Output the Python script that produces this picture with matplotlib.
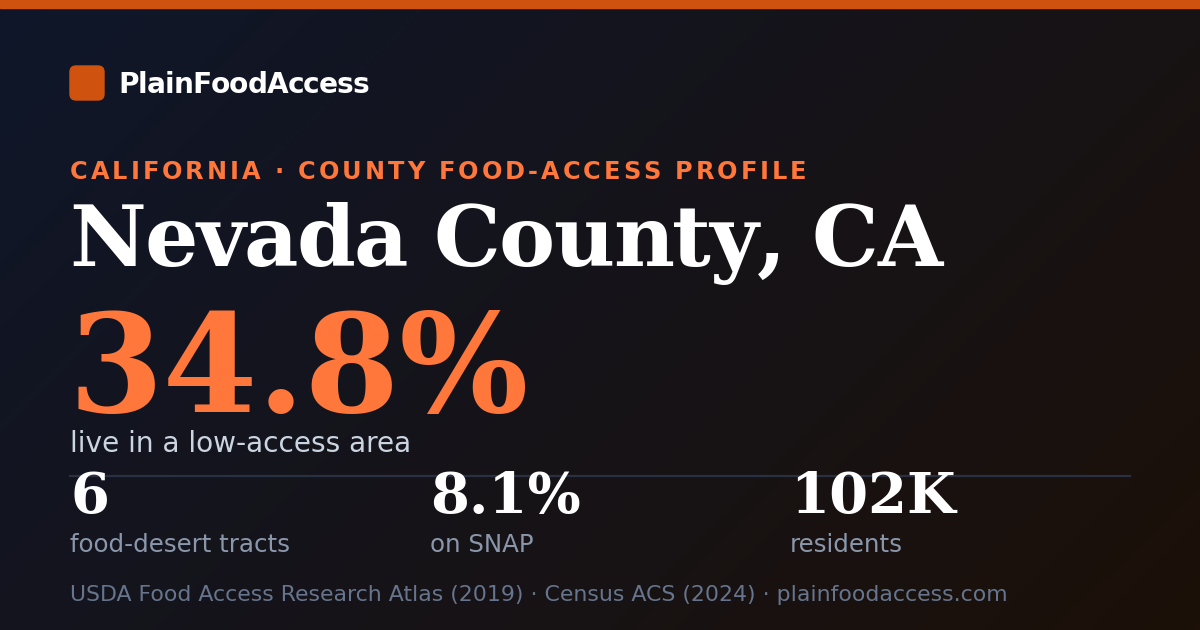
import matplotlib
matplotlib.use("Agg")
import matplotlib.pyplot as plt
import numpy as np
from matplotlib.patches import FancyBboxPatch, Rectangle
from matplotlib.font_manager import FontProperties, findfont, get_font

# card content
brand = "PlainFoodAccess"
kicker = "CALIFORNIA · COUNTY FOOD-ACCESS PROFILE"
county = "Nevada County, CA"
headline_value = "34.8%"
headline_label = "live in a low-access area"
stat_values = ["6", "8.1%", "102K"]
stat_labels = ["food-desert tracts", "on SNAP", "residents"]
footer = "USDA Food Access Research Atlas (2019) · Census ACS (2024) · plainfoodaccess.com"

ORANGE = "#cf520f"
ACCENT = "#ff773a"
W, H = 1200, 630


def px(size_px):
    # css px -> points at dpi 100
    return size_px * 0.72


def spaced_text(ax, x, y, s, size_px, spacing_px, family="DejaVu Sans", weight="bold", **kw):
    # matplotlib has no letter-spacing, so lay the glyphs out one by one
    fp = FontProperties(family=family, weight=weight, size=px(size_px))
    font = get_font(findfont(fp))
    font.set_size(px(size_px), 100)
    for ch in s:
        ax.text(x, y, ch, fontproperties=fp, va="baseline", **kw)
        x += font.load_char(ord(ch)).linearHoriAdvance / 65536 + spacing_px


fig = plt.figure(figsize=(12, 6.3), dpi=100)
ax = fig.add_axes([0, 0, 1, 1])
ax.set_xlim(0, W)
ax.set_ylim(H, 0)
ax.axis("off")

# diagonal background gradient, navy top-left to brown bottom-right
gx, gy = np.meshgrid(np.linspace(0, 1, 240), np.linspace(0, 1, 126))
t = np.clip((gx * W + gy * H) / (W + H), 0, 1)[..., None]
c0 = np.array([0x0f, 0x17, 0x2a]) / 255
c1 = np.array([0x1c, 0x10, 0x08]) / 255
ax.imshow(c0 + (c1 - c0) * t, extent=[0, W, H, 0], aspect="auto", zorder=0)

ax.add_patch(Rectangle((0, 0), W, 8, color=ORANGE, zorder=2))

# brand
ax.add_patch(FancyBboxPatch((70, 66), 34, 34, boxstyle="round,pad=0,rounding_size=6",
                            color=ORANGE, zorder=2))
spaced_text(ax, 118, 93, brand, 28, -0.85, color="white", zorder=3)

spaced_text(ax, 70, 179, kicker, 24, 3.0, color=ACCENT, zorder=3)

spaced_text(ax, 69, 266, county, 84, -1.6, family="DejaVu Serif",
            color="white", zorder=3)

ax.text(68, 412, headline_value, fontsize=px(136), family="DejaVu Serif", weight="bold",
        color=ACCENT, va="baseline", zorder=3)
ax.text(70, 452, headline_label, fontsize=px(28), family="DejaVu Sans",
        color="#cbd5e1", va="baseline", zorder=3)

ax.plot([70, 1130], [476, 476], color="#283041", lw=1.6, zorder=2)

for i, (v, lab) in enumerate(zip(stat_values, stat_labels)):
    x = 70 + 360 * i
    ax.text(x, 513, v, fontsize=px(56), family="DejaVu Serif", weight="bold",
            color="white", va="baseline", zorder=3)
    ax.text(x, 552, lab, fontsize=px(24.5), family="DejaVu Sans",
            color="#8a97ab", va="baseline", zorder=3)

ax.text(70, 601, footer, fontsize=px(22), family="DejaVu Sans",
        color="#66758d", va="baseline", zorder=3)

fig.savefig("out.png", dpi=100)
